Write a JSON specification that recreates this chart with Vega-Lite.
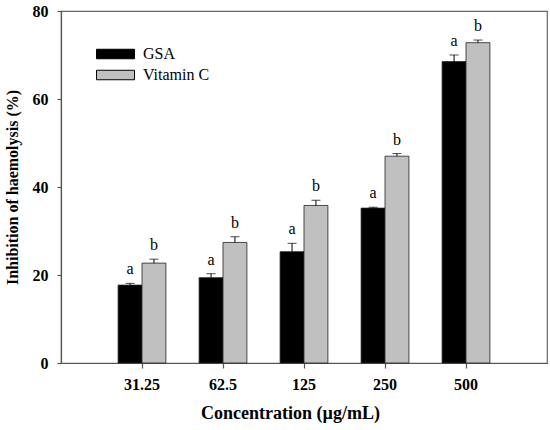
{
  "$schema": "https://vega.github.io/schema/vega-lite/v6.json",
  "autosize": {"type": "none"},
  "padding": {"left": 61, "top": 11, "right": 3, "bottom": 67},
  "width": 486,
  "height": 352,
  "background": "white",
  "config": {
    "font": "Liberation Serif",
    "view": {"stroke": "#666", "strokeWidth": 1.2},
    "axis": {
      "domainColor": "#555",
      "domainWidth": 1.2,
      "tickColor": "#555",
      "tickWidth": 1.2,
      "grid": false,
      "labelFont": "Liberation Serif",
      "labelFontWeight": "bold",
      "labelFontSize": 16,
      "labelColor": "#000",
      "titleFont": "Liberation Serif",
      "titleFontWeight": "bold",
      "titleFontSize": 16,
      "titleColor": "#000"
    }
  },
  "data": {
    "values": [
      {"conc": "31.25", "series": "GSA", "value": 17.7, "upper": 18.1, "letter": "a"},
      {"conc": "31.25", "series": "Vitamin C", "value": 22.7, "upper": 23.6, "letter": "b"},
      {"conc": "62.5", "series": "GSA", "value": 19.4, "upper": 20.3, "letter": "a"},
      {"conc": "62.5", "series": "Vitamin C", "value": 27.4, "upper": 28.7, "letter": "b"},
      {"conc": "125", "series": "GSA", "value": 25.3, "upper": 27.2, "letter": "a"},
      {"conc": "125", "series": "Vitamin C", "value": 35.8, "upper": 37.0, "letter": "b"},
      {"conc": "250", "series": "GSA", "value": 35.2, "upper": 35.4, "letter": "a"},
      {"conc": "250", "series": "Vitamin C", "value": 47.0, "upper": 47.6, "letter": "b"},
      {"conc": "500", "series": "GSA", "value": 68.5, "upper": 70.0, "letter": "a"},
      {"conc": "500", "series": "Vitamin C", "value": 72.8, "upper": 73.4, "letter": "b"}
    ]
  },
  "encoding": {
    "x": {
      "field": "conc",
      "type": "ordinal",
      "sort": ["31.25", "62.5", "125", "250", "500"],
      "scale": {"paddingInner": 0.41, "paddingOuter": 0.705},
      "axis": {"labelAngle": 0, "tickSize": 5, "labelPadding": 8, "title": "Concentration (µg/mL)", "titlePadding": 12, "titleFontSize": 18, "titleX": 229}
    },
    "xOffset": {"field": "series", "type": "nominal", "scale": {"paddingInner": 0, "paddingOuter": 0}}
  },
  "layer": [
    {
      "mark": {"type": "bar", "stroke": "#222", "strokeWidth": 0.8},
      "encoding": {
        "y": {
          "field": "value",
          "type": "quantitative",
          "scale": {"domain": [0, 80]},
          "axis": {"values": [0, 20, 40, 60, 80], "tickSize": 4, "labelPadding": 9, "title": "Inhibition of haemolysis (%)", "titlePadding": 12}
        },
        "color": {
          "field": "series",
          "type": "nominal",
          "scale": {"domain": ["GSA", "Vitamin C"], "range": ["#000000", "#c0c0c0"]},
          "legend": {
            "title": null,
            "orient": "none",
            "legendX": 35,
            "legendY": 35,
            "padding": 0,
            "symbolType": "M-1,-0.25H1V0.25H-1Z",
            "symbolSize": 1444,
            "symbolStrokeColor": "#000",
            "symbolStrokeWidth": 1,
            "symbolOpacity": 1,
            "clipHeight": 16,
            "rowPadding": 5,
            "labelFont": "Liberation Serif",
            "labelFontSize": 16,
            "labelColor": "#000",
            "labelOffset": 8
          }
        }
      }
    },
    {
      "mark": {"type": "rule", "color": "#000", "strokeWidth": 1},
      "encoding": {
        "y": {"field": "value", "type": "quantitative"},
        "y2": {"field": "upper"}
      }
    },
    {
      "mark": {"type": "tick", "color": "#000", "size": 9, "thickness": 1},
      "encoding": {
        "y": {"field": "upper", "type": "quantitative"}
      }
    },
    {
      "mark": {"type": "text", "fontSize": 16, "baseline": "alphabetic", "dy": -9, "color": "#000"},
      "encoding": {
        "y": {"field": "upper", "type": "quantitative"},
        "text": {"field": "letter"}
      }
    }
  ]
}
